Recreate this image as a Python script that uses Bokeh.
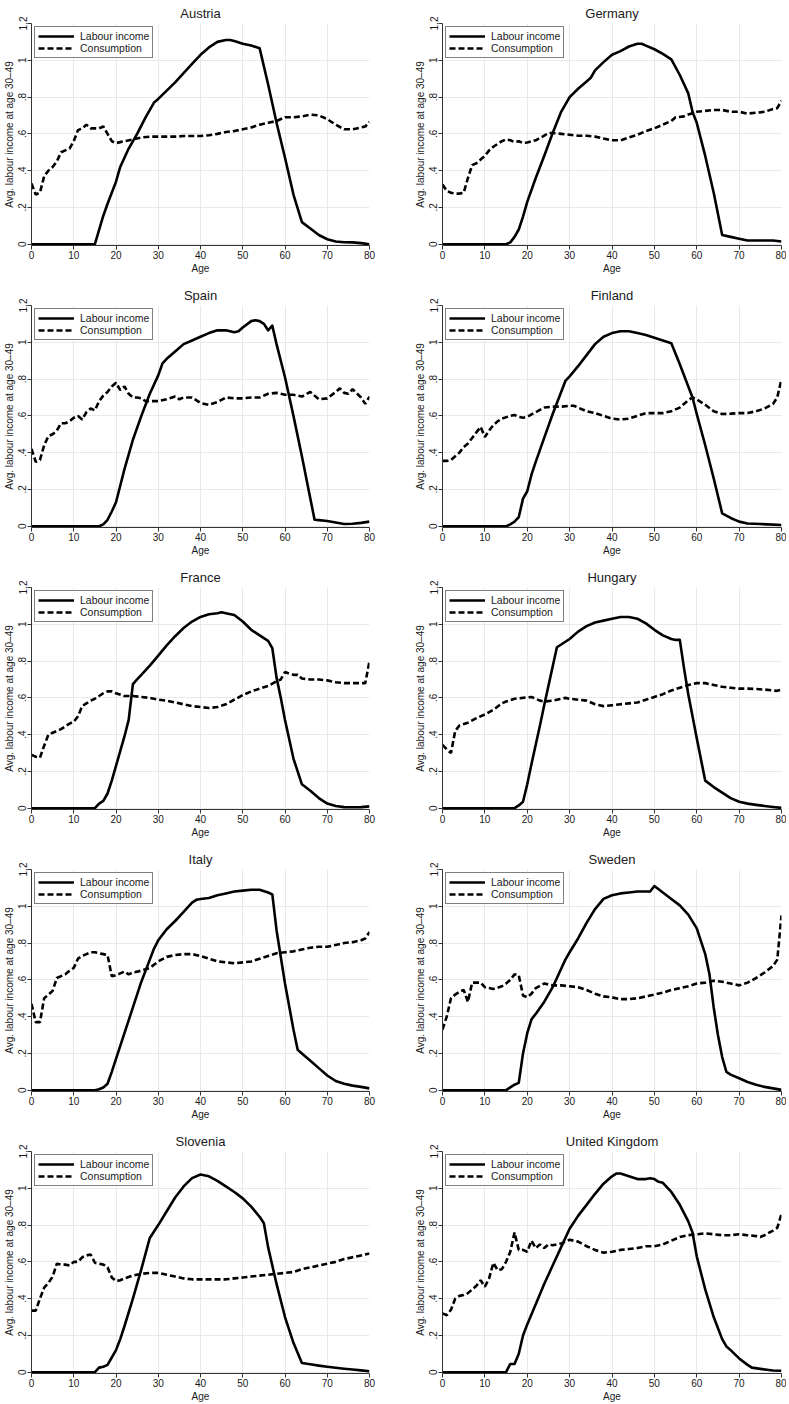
from bokeh.plotting import figure
from bokeh.models import Range1d, FixedTicker, CustomJSTickFormatter, Legend, LegendItem
from bokeh.layouts import column, row
from bokeh.embed import file_html
from bokeh.resources import INLINE

# ---------------- data ----------------
x_ticks = [0, 10, 20, 30, 40, 50, 60, 70, 80]
y_ticks = [0, 0.2, 0.4, 0.6, 0.8, 1.0, 1.2]
series_labels = ["Labour income", "Consumption"]
y_title = "Avg. labour income at age 30\u201349"
x_title = "Age"

# Austria
austria_li_age = [0, 15, 17, 18, 20, 21, 22, 23, 25, 27, 29, 30, 32, 34, 36, 38, 40, 42, 44, 46, 47, 48, 50, 52, 54, 56, 58, 60, 62, 64, 66, 68, 70, 72, 74, 76, 78, 80]
austria_li = [0, 0, 0.155, 0.22, 0.34, 0.42, 0.47, 0.52, 0.60, 0.69, 0.77, 0.79, 0.835, 0.88, 0.93, 0.98, 1.03, 1.07, 1.10, 1.11, 1.11, 1.105, 1.09, 1.08, 1.065, 0.87, 0.66, 0.47, 0.27, 0.12, 0.085, 0.05, 0.027, 0.015, 0.011, 0.01, 0.006, 0.0]
austria_c_age = [0, 1, 2, 3, 4, 5, 6, 7, 8, 9, 10, 11, 12, 13, 14, 15, 16, 17, 18, 19, 20, 21, 22, 24, 26, 28, 30, 34, 36, 40, 42, 44, 46, 48, 50, 52, 54, 56, 58, 60, 62, 64, 66, 68, 70, 72, 74, 76, 78, 79, 80]
austria_c = [0.33, 0.27, 0.28, 0.37, 0.40, 0.42, 0.45, 0.50, 0.51, 0.52, 0.56, 0.62, 0.63, 0.65, 0.63, 0.63, 0.63, 0.64, 0.60, 0.56, 0.55, 0.555, 0.56, 0.57, 0.58, 0.585, 0.585, 0.585, 0.588, 0.588, 0.592, 0.60, 0.61, 0.615, 0.625, 0.635, 0.65, 0.66, 0.67, 0.69, 0.69, 0.695, 0.705, 0.70, 0.68, 0.65, 0.625, 0.625, 0.635, 0.64, 0.665]

# Germany
germany_li_age = [0, 15, 16, 17, 18, 19, 20, 22, 24, 26, 28, 30, 32, 34, 35, 36, 38, 40, 42, 44, 46, 47, 48, 50, 52, 54, 56, 58, 59, 60, 62, 64, 66, 68, 70, 72, 74, 76, 78, 80]
germany_li = [0, 0, 0.01, 0.04, 0.08, 0.15, 0.23, 0.36, 0.48, 0.605, 0.72, 0.80, 0.845, 0.885, 0.905, 0.945, 0.99, 1.03, 1.05, 1.075, 1.09, 1.09, 1.08, 1.06, 1.035, 1.005, 0.92, 0.82, 0.72, 0.66, 0.48, 0.28, 0.05, 0.04, 0.03, 0.02, 0.02, 0.02, 0.02, 0.015]
germany_c_age = [0, 1, 2, 3, 4, 5, 6, 7, 8, 9, 10, 11, 12, 13, 14, 15, 16, 17, 18, 19, 20, 22, 24, 25, 26, 28, 30, 32, 34, 36, 38, 40, 42, 44, 46, 48, 50, 52, 54, 55, 57, 58, 60, 62, 64, 66, 68, 70, 72, 74, 76, 78, 79, 80]
germany_c = [0.325, 0.29, 0.28, 0.275, 0.275, 0.28, 0.36, 0.43, 0.44, 0.46, 0.48, 0.51, 0.53, 0.545, 0.56, 0.57, 0.565, 0.555, 0.56, 0.55, 0.553, 0.565, 0.59, 0.605, 0.605, 0.60, 0.595, 0.59, 0.59, 0.585, 0.575, 0.565, 0.565, 0.58, 0.595, 0.615, 0.63, 0.65, 0.67, 0.69, 0.695, 0.705, 0.72, 0.725, 0.73, 0.73, 0.72, 0.72, 0.71, 0.715, 0.72, 0.735, 0.74, 0.78]

# Spain
spain_li_age = [0, 16, 17, 18, 19, 20, 21, 22, 24, 26, 28, 30, 31, 32, 34, 36, 38, 40, 42, 44, 46, 47, 48, 49, 50, 52, 53, 54, 55, 56, 57, 58, 60, 62, 64, 66, 67, 68, 70, 72, 74, 76, 78, 80]
spain_li = [0, 0, 0.01, 0.035, 0.08, 0.13, 0.22, 0.31, 0.47, 0.60, 0.72, 0.82, 0.885, 0.91, 0.95, 0.99, 1.01, 1.03, 1.05, 1.065, 1.065, 1.06, 1.055, 1.06, 1.08, 1.115, 1.12, 1.115, 1.10, 1.065, 1.09, 0.99, 0.81, 0.60, 0.38, 0.15, 0.035, 0.033, 0.028, 0.02, 0.012, 0.013, 0.018, 0.025]
spain_c_age = [0, 1, 2, 3, 4, 5, 6, 7, 8, 9, 10, 11, 12, 13, 14, 15, 16, 17, 18, 19, 20, 21, 22, 23, 24, 25, 26, 27, 28, 30, 32, 34, 35, 36, 38, 40, 42, 44, 46, 48, 50, 52, 54, 56, 58, 60, 62, 64, 66, 68, 70, 72, 73, 74, 75, 76, 78, 79, 80]
spain_c = [0.42, 0.35, 0.36, 0.44, 0.49, 0.50, 0.52, 0.56, 0.56, 0.57, 0.59, 0.60, 0.58, 0.62, 0.64, 0.63, 0.68, 0.71, 0.73, 0.76, 0.78, 0.74, 0.76, 0.72, 0.70, 0.70, 0.695, 0.68, 0.68, 0.68, 0.69, 0.705, 0.69, 0.70, 0.70, 0.67, 0.66, 0.675, 0.70, 0.695, 0.695, 0.70, 0.70, 0.72, 0.725, 0.715, 0.715, 0.705, 0.73, 0.69, 0.695, 0.73, 0.75, 0.725, 0.72, 0.745, 0.70, 0.665, 0.705]

# Finland
finland_li_age = [0, 15, 16, 17, 18, 19, 20, 21, 22, 24, 26, 28, 29, 30, 32, 34, 36, 38, 40, 42, 44, 46, 48, 50, 52, 54, 56, 58, 59, 60, 62, 64, 66, 68, 70, 72, 75, 80]
finland_li = [0, 0, 0.01, 0.025, 0.05, 0.15, 0.19, 0.28, 0.35, 0.48, 0.61, 0.73, 0.79, 0.815, 0.87, 0.93, 0.99, 1.03, 1.05, 1.06, 1.06, 1.05, 1.04, 1.025, 1.01, 0.995, 0.88, 0.76, 0.70, 0.61, 0.44, 0.26, 0.07, 0.045, 0.025, 0.015, 0.012, 0.007]
finland_c_age = [0, 1, 2, 3, 4, 5, 6, 7, 8, 9, 10, 11, 12, 13, 14, 16, 17, 18, 19, 20, 22, 24, 26, 28, 30, 31, 32, 34, 36, 38, 40, 42, 44, 46, 48, 50, 52, 54, 56, 58, 59, 60, 62, 64, 66, 68, 70, 72, 74, 76, 78, 79, 80]
finland_c = [0.355, 0.355, 0.36, 0.38, 0.40, 0.43, 0.45, 0.48, 0.51, 0.54, 0.485, 0.52, 0.55, 0.57, 0.585, 0.60, 0.605, 0.595, 0.59, 0.595, 0.62, 0.645, 0.65, 0.65, 0.655, 0.655, 0.645, 0.625, 0.615, 0.60, 0.585, 0.58, 0.585, 0.60, 0.615, 0.615, 0.615, 0.625, 0.645, 0.685, 0.70, 0.69, 0.66, 0.625, 0.61, 0.612, 0.615, 0.615, 0.625, 0.64, 0.665, 0.70, 0.80]

# France
france_li_age = [0, 15, 16, 17, 18, 19, 20, 21, 22, 23, 24, 25, 26, 28, 30, 32, 34, 36, 38, 40, 42, 44, 45, 46, 48, 50, 52, 54, 56, 57, 58, 59, 60, 62, 64, 66, 68, 70, 72, 74, 76, 78, 80]
france_li = [0, 0, 0.025, 0.04, 0.08, 0.15, 0.23, 0.31, 0.39, 0.48, 0.675, 0.70, 0.725, 0.775, 0.83, 0.885, 0.935, 0.98, 1.015, 1.04, 1.055, 1.06, 1.065, 1.06, 1.05, 1.015, 0.97, 0.94, 0.91, 0.87, 0.71, 0.60, 0.48, 0.27, 0.13, 0.095, 0.055, 0.025, 0.012, 0.006, 0.005, 0.006, 0.01]
france_c_age = [0, 1, 2, 3, 4, 5, 6, 7, 8, 9, 10, 11, 12, 13, 14, 15, 16, 17, 18, 19, 20, 22, 24, 26, 28, 30, 32, 34, 36, 38, 40, 42, 44, 46, 48, 50, 52, 54, 56, 58, 59, 60, 62, 63, 64, 66, 68, 70, 72, 74, 76, 78, 79, 80]
france_c = [0.29, 0.28, 0.275, 0.34, 0.40, 0.41, 0.42, 0.43, 0.445, 0.46, 0.47, 0.50, 0.555, 0.57, 0.585, 0.595, 0.61, 0.625, 0.635, 0.635, 0.625, 0.61, 0.61, 0.605, 0.60, 0.59, 0.585, 0.575, 0.565, 0.555, 0.55, 0.545, 0.55, 0.565, 0.59, 0.615, 0.635, 0.65, 0.665, 0.69, 0.70, 0.74, 0.725, 0.725, 0.705, 0.70, 0.70, 0.695, 0.685, 0.68, 0.68, 0.68, 0.68, 0.80]

# Hungary
hungary_li_age = [0, 17, 18, 19, 20, 21, 22, 23, 24, 25, 26, 27, 28, 30, 32, 34, 36, 38, 40, 42, 44, 46, 48, 50, 52, 54, 55, 56, 57, 58, 60, 62, 64, 66, 68, 70, 72, 74, 76, 78, 80]
hungary_li = [0, 0, 0.015, 0.035, 0.13, 0.24, 0.345, 0.45, 0.56, 0.665, 0.77, 0.875, 0.89, 0.92, 0.96, 0.99, 1.01, 1.02, 1.03, 1.04, 1.04, 1.03, 1.005, 0.97, 0.94, 0.92, 0.915, 0.915, 0.76, 0.62, 0.38, 0.15, 0.115, 0.085, 0.055, 0.035, 0.025, 0.018, 0.012, 0.007, 0.002]
hungary_c_age = [0, 1, 2, 3, 4, 6, 8, 10, 12, 14, 15, 17, 19, 21, 22, 23, 24, 26, 28, 29, 30, 32, 34, 36, 38, 40, 42, 44, 46, 48, 50, 52, 54, 56, 58, 60, 62, 64, 66, 68, 70, 72, 74, 76, 78, 79, 80]
hungary_c = [0.345, 0.32, 0.30, 0.42, 0.45, 0.465, 0.49, 0.51, 0.535, 0.57, 0.58, 0.595, 0.60, 0.605, 0.595, 0.585, 0.58, 0.585, 0.595, 0.60, 0.595, 0.59, 0.585, 0.565, 0.555, 0.56, 0.565, 0.57, 0.575, 0.59, 0.605, 0.62, 0.64, 0.655, 0.67, 0.68, 0.68, 0.67, 0.66, 0.655, 0.65, 0.65, 0.648, 0.645, 0.64, 0.638, 0.645]

# Italy
italy_li_age = [0, 15, 16, 17, 18, 19, 20, 22, 24, 26, 28, 29, 30, 32, 34, 36, 38, 39, 40, 42, 44, 46, 48, 50, 52, 54, 56, 57, 58, 60, 62, 63, 64, 66, 68, 70, 72, 74, 76, 78, 80]
italy_li = [0, 0, 0.005, 0.015, 0.035, 0.10, 0.17, 0.31, 0.45, 0.59, 0.71, 0.77, 0.815, 0.875, 0.92, 0.97, 1.02, 1.035, 1.04, 1.045, 1.06, 1.07, 1.08, 1.085, 1.09, 1.09, 1.075, 1.065, 0.87, 0.58, 0.33, 0.22, 0.20, 0.16, 0.12, 0.08, 0.05, 0.035, 0.025, 0.018, 0.01]
italy_c_age = [0, 1, 2, 3, 4, 5, 6, 7, 8, 9, 10, 11, 12, 13, 14, 15, 16, 17, 18, 19, 20, 21, 22, 23, 24, 26, 28, 30, 32, 34, 36, 38, 40, 42, 44, 46, 48, 50, 52, 54, 56, 58, 60, 62, 64, 66, 68, 70, 72, 74, 76, 78, 79, 80]
italy_c = [0.47, 0.37, 0.37, 0.50, 0.52, 0.54, 0.61, 0.62, 0.63, 0.65, 0.665, 0.715, 0.73, 0.74, 0.75, 0.75, 0.745, 0.74, 0.735, 0.62, 0.625, 0.635, 0.645, 0.63, 0.64, 0.65, 0.665, 0.70, 0.725, 0.735, 0.74, 0.74, 0.73, 0.715, 0.70, 0.695, 0.69, 0.695, 0.70, 0.715, 0.73, 0.745, 0.75, 0.755, 0.765, 0.775, 0.78, 0.78, 0.79, 0.80, 0.805, 0.815, 0.825, 0.86]

# Sweden
sweden_li_age = [0, 15, 16, 17, 18, 19, 20, 21, 22, 24, 26, 28, 29, 30, 32, 34, 36, 38, 40, 42, 44, 46, 48, 49, 50, 52, 54, 56, 58, 60, 62, 63, 64, 65, 66, 67, 68, 70, 72, 74, 76, 78, 80]
sweden_li = [0, 0, 0.015, 0.03, 0.04, 0.20, 0.31, 0.385, 0.415, 0.48, 0.56, 0.66, 0.71, 0.75, 0.825, 0.91, 0.985, 1.04, 1.06, 1.07, 1.075, 1.08, 1.08, 1.08, 1.11, 1.075, 1.04, 1.005, 0.955, 0.88, 0.74, 0.63, 0.45, 0.30, 0.18, 0.10, 0.085, 0.065, 0.045, 0.03, 0.018, 0.01, 0.002]
sweden_c_age = [0, 1, 2, 3, 4, 5, 6, 7, 8, 9, 10, 12, 14, 15, 16, 17, 18, 19, 20, 21, 22, 24, 26, 28, 30, 32, 34, 36, 38, 40, 42, 44, 46, 48, 50, 52, 54, 56, 58, 60, 62, 64, 66, 68, 70, 72, 74, 76, 78, 79, 80]
sweden_c = [0.33, 0.40, 0.50, 0.52, 0.535, 0.545, 0.48, 0.585, 0.585, 0.585, 0.56, 0.55, 0.565, 0.58, 0.60, 0.63, 0.625, 0.515, 0.505, 0.525, 0.555, 0.58, 0.57, 0.57, 0.565, 0.56, 0.545, 0.525, 0.51, 0.505, 0.495, 0.495, 0.50, 0.51, 0.52, 0.53, 0.545, 0.555, 0.565, 0.58, 0.585, 0.595, 0.59, 0.58, 0.57, 0.585, 0.61, 0.64, 0.675, 0.71, 0.95]

# Slovenia
slovenia_li_age = [0, 15, 16, 17, 18, 19, 20, 21, 22, 24, 26, 28, 30, 32, 34, 36, 38, 40, 42, 44, 46, 48, 50, 52, 54, 55, 56, 58, 60, 62, 64, 66, 68, 70, 72, 74, 76, 78, 80]
slovenia_li = [0, 0, 0.025, 0.03, 0.04, 0.08, 0.12, 0.18, 0.25, 0.40, 0.56, 0.73, 0.80, 0.875, 0.95, 1.01, 1.055, 1.075, 1.065, 1.04, 1.01, 0.98, 0.945, 0.90, 0.845, 0.81, 0.68, 0.48, 0.30, 0.16, 0.05, 0.043, 0.036, 0.03, 0.024, 0.019, 0.015, 0.01, 0.005]
slovenia_c_age = [0, 1, 2, 3, 4, 5, 6, 7, 8, 9, 10, 11, 12, 13, 14, 15, 16, 17, 18, 19, 20, 21, 22, 24, 26, 28, 30, 32, 34, 36, 38, 40, 42, 44, 46, 48, 50, 52, 54, 56, 58, 60, 62, 64, 66, 68, 70, 72, 74, 76, 78, 80]
slovenia_c = [0.335, 0.335, 0.40, 0.46, 0.485, 0.52, 0.59, 0.585, 0.585, 0.58, 0.60, 0.60, 0.625, 0.635, 0.64, 0.595, 0.59, 0.585, 0.57, 0.515, 0.495, 0.50, 0.51, 0.525, 0.535, 0.54, 0.54, 0.53, 0.52, 0.51, 0.505, 0.505, 0.505, 0.505, 0.505, 0.51, 0.515, 0.52, 0.525, 0.53, 0.535, 0.54, 0.545, 0.56, 0.57, 0.58, 0.59, 0.60, 0.615, 0.625, 0.635, 0.645]

# United Kingdom
uk_li_age = [0, 15, 16, 17, 18, 19, 20, 22, 24, 26, 28, 30, 32, 34, 36, 38, 40, 41, 42, 44, 46, 48, 49, 50, 51, 52, 54, 56, 58, 59, 60, 62, 64, 66, 67, 68, 70, 72, 73, 75, 77, 78, 80]
uk_li = [0, 0, 0.045, 0.045, 0.10, 0.20, 0.26, 0.37, 0.48, 0.58, 0.68, 0.78, 0.85, 0.91, 0.97, 1.025, 1.065, 1.08, 1.08, 1.065, 1.05, 1.05, 1.055, 1.05, 1.035, 1.03, 0.98, 0.91, 0.82, 0.76, 0.63, 0.45, 0.30, 0.18, 0.14, 0.12, 0.075, 0.04, 0.025, 0.018, 0.012, 0.009, 0.008]
uk_c_age = [0, 1, 2, 3, 4, 5, 6, 7, 8, 9, 10, 11, 12, 13, 14, 15, 16, 17, 18, 19, 20, 21, 22, 23, 24, 25, 26, 28, 30, 32, 34, 36, 38, 40, 42, 44, 46, 48, 50, 52, 54, 56, 58, 60, 62, 64, 66, 68, 70, 72, 74, 75, 76, 78, 79, 80]
uk_c = [0.32, 0.31, 0.34, 0.40, 0.415, 0.42, 0.43, 0.45, 0.47, 0.50, 0.465, 0.51, 0.595, 0.555, 0.56, 0.60, 0.655, 0.76, 0.665, 0.665, 0.655, 0.715, 0.675, 0.695, 0.675, 0.695, 0.69, 0.70, 0.72, 0.71, 0.685, 0.665, 0.65, 0.655, 0.665, 0.67, 0.675, 0.685, 0.685, 0.695, 0.715, 0.735, 0.745, 0.75, 0.755, 0.75, 0.745, 0.745, 0.75, 0.745, 0.74, 0.735, 0.745, 0.77, 0.785, 0.86]

# ---------------- style ----------------
FONT = "Liberation Sans"
INK = "#1a1a1a"
AXIS = "#333333"
GRID = "#e9e9e9"

fmt = CustomJSTickFormatter(code="""
if (Math.abs(tick) < 1e-9) { return "0"; }
let s = tick.toFixed(1);
if (s.endsWith(".0")) { s = s.slice(0, -2); }
if (s.startsWith("0.")) { s = s.slice(1); }
return s;
""")


def panel(title, a_li, v_li, a_c, v_c, right_col, last_row):
    p = figure(frame_width=(339 if right_col else 338), frame_height=222,
               x_range=Range1d(0, 80), y_range=Range1d(-0.007, 1.2),
               output_backend="svg", toolbar_location=None,
               min_border_left=(51 if right_col else 20),
               min_border_right=(5 if right_col else 22),
               min_border_top=0,
               min_border_bottom=(28 if last_row else 37),
               background_fill_color="white", border_fill_color="white")
    p.outline_line_color = None
    p.title.text = title
    p.title.align = "center"
    p.title.text_font = FONT
    p.title.text_font_size = "13px"
    p.title.text_font_style = "normal"
    p.title.text_color = INK
    p.title.standoff = 6

    for ax in (p.xaxis[0], p.yaxis[0]):
        ax.axis_line_color = AXIS
        ax.axis_line_width = 1
        ax.major_tick_line_color = AXIS
        ax.major_tick_in = 0
        ax.major_tick_out = 4
        ax.minor_tick_line_color = None
        ax.major_label_text_font = FONT
        ax.major_label_text_font_size = "10px"
        ax.major_label_text_color = INK
        ax.axis_label_text_font = FONT
        ax.axis_label_text_font_size = "10px"
        ax.axis_label_text_font_style = "normal"
        ax.axis_label_text_color = INK
        ax.major_label_standoff = 1
        ax.axis_label_standoff = 1

    p.xaxis.ticker = FixedTicker(ticks=x_ticks)
    p.yaxis.ticker = FixedTicker(ticks=y_ticks)
    p.yaxis.formatter = fmt
    p.yaxis.major_label_orientation = "vertical"
    p.xaxis.axis_label = x_title
    p.yaxis.axis_label = y_title

    p.xgrid.ticker = FixedTicker(ticks=x_ticks)
    p.ygrid.ticker = FixedTicker(ticks=y_ticks)
    p.xgrid.grid_line_color = GRID
    p.ygrid.grid_line_color = GRID

    r1 = p.line(a_li, v_li, line_width=2.6, line_color="black", line_join="round")
    r2 = p.line(a_c, v_c, line_width=2.6, line_color="black", line_dash="6 3")

    leg = Legend(items=[LegendItem(label=series_labels[0], renderers=[r1]),
                        LegendItem(label=series_labels[1], renderers=[r2])],
                 location="top_left")
    leg.border_line_color = "black"
    leg.border_line_width = 1
    leg.margin = 3
    leg.padding = 3
    leg.spacing = 0
    leg.label_text_font = FONT
    leg.label_text_font_size = "10.5px"
    leg.label_text_color = INK
    leg.label_height = 12
    leg.glyph_height = 12
    leg.glyph_width = 36
    leg.label_standoff = 6
    leg.background_fill_color = "white"
    leg.background_fill_alpha = 1.0
    p.add_layout(leg)
    return p


panels = [
    ("Austria", austria_li_age, austria_li, austria_c_age, austria_c),
    ("Germany", germany_li_age, germany_li, germany_c_age, germany_c),
    ("Spain", spain_li_age, spain_li, spain_c_age, spain_c),
    ("Finland", finland_li_age, finland_li, finland_c_age, finland_c),
    ("France", france_li_age, france_li, france_c_age, france_c),
    ("Hungary", hungary_li_age, hungary_li, hungary_c_age, hungary_c),
    ("Italy", italy_li_age, italy_li, italy_c_age, italy_c),
    ("Sweden", sweden_li_age, sweden_li, sweden_c_age, sweden_c),
    ("Slovenia", slovenia_li_age, slovenia_li, slovenia_c_age, slovenia_c),
    ("United Kingdom", uk_li_age, uk_li, uk_c_age, uk_c),
]

rows = []
for i in range(0, 10, 2):
    last = (i == 8)
    left = panel(*panels[i], right_col=False, last_row=last)
    right = panel(*panels[i + 1], right_col=True, last_row=last)
    rows.append(row(left, right, spacing=0))

layout = column(*rows, spacing=0)

open("out.html", "w").write(file_html(layout, INLINE))
